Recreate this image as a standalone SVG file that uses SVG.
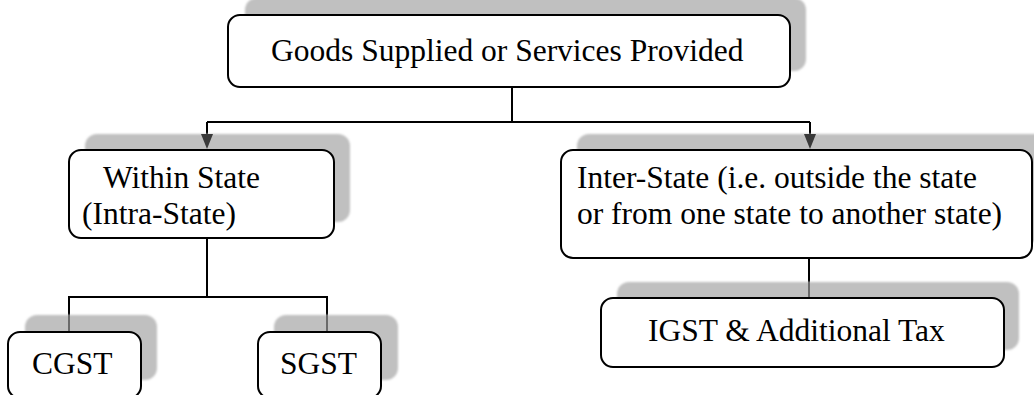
<svg xmlns="http://www.w3.org/2000/svg" width="1034" height="395" viewBox="0 0 1034 395">
  <defs>
    <filter id="soft" x="-5%" y="-10%" width="110%" height="120%">
      <feGaussianBlur stdDeviation="1.2"/>
    </filter>
  </defs>
  <style>
    .shadow { fill: #c0c0c0; filter: url(#soft); }
    .box { fill: #ffffff; stroke: #000000; stroke-width: 2; }
    .label { font-family: "Liberation Serif", "Times New Roman", serif; font-size: 31.5px; fill: #000000; }
    .wire { fill: none; stroke: #000000; stroke-width: 2; }
    .tip { fill: #3a3a3a; }
    .through { stroke: #6a6a6a; stroke-width: 2; }
  </style>

  <rect width="1034" height="395" fill="#ffffff"/>

  <!-- Connectors -->
  <g id="connectors">
    <polyline class="wire" points="512,87 512,122"/>
    <polyline class="wire" points="207,122 810,122"/>
    <line class="wire" x1="207" y1="122" x2="207" y2="136"/>
    <line class="wire" x1="810" y1="122" x2="810" y2="136"/>
    <polyline class="wire" points="207,238 207,297"/>
    <polyline class="wire" points="69,332 69,297 327,297 327,332"/>
    <polyline class="wire" points="809,258 809,298"/>
  </g>

  <!-- Top: Goods Supplied or Services Provided -->
  <g id="node-goods">
    <rect class="shadow" x="245" y="-2" width="561" height="73" rx="12"/>
    <rect class="box" x="228" y="15" width="562" height="72" rx="12"/>
    <text class="label" x="271" y="61">Goods Supplied or Services Provided</text>
  </g>

  <!-- Within State -->
  <g id="node-within">
    <rect class="shadow" x="85" y="134" width="265" height="88" rx="12"/>
    <path class="tip" d="M201,134 L213,134 L207,149 Z"/>
    <rect class="box" x="69" y="150" width="265" height="88" rx="12"/>
    <text class="label" x="103" y="188">Within State</text>
    <text class="label" x="82" y="224">(Intra-State)</text>
  </g>

  <!-- Inter-State -->
  <g id="node-inter">
    <rect class="shadow" x="577" y="134" width="471" height="108" rx="12"/>
    <path class="tip" d="M804,134 L816,134 L810,149 Z"/>
    <rect class="box" x="561" y="150" width="471" height="108" rx="12"/>
    <text class="label" x="577" y="188">Inter-State (i.e. outside the state</text>
    <text class="label" x="577" y="224">or from one state to another state)</text>
  </g>

  <!-- CGST -->
  <g id="node-cgst">
    <rect class="shadow" x="25" y="315" width="132" height="65" rx="12"/>
    <line class="through" x1="69" y1="315" x2="69" y2="332"/>
    <rect class="box" x="8" y="332" width="133" height="66" rx="12"/>
    <text class="label" x="32" y="374">CGST</text>
  </g>

  <!-- SGST -->
  <g id="node-sgst">
    <rect class="shadow" x="274" y="315" width="124" height="65" rx="12"/>
    <line class="through" x1="327" y1="315" x2="327" y2="332"/>
    <rect class="box" x="258" y="332" width="123" height="66" rx="12"/>
    <text class="label" x="280" y="374">SGST</text>
  </g>

  <!-- IGST & Additional Tax -->
  <g id="node-igst">
    <rect class="shadow" x="617" y="282" width="402" height="68" rx="12"/>
    <line class="through" x1="809" y1="282" x2="809" y2="298"/>
    <rect class="box" x="601" y="298" width="403" height="69" rx="12"/>
    <text class="label" x="648" y="341">IGST &amp; Additional Tax</text>
  </g>
</svg>
